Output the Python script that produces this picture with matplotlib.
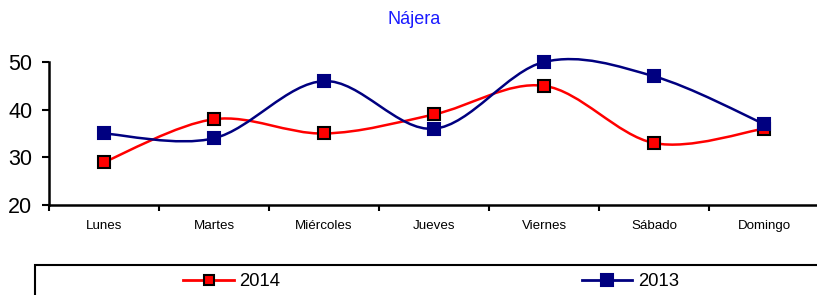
import numpy as np
import matplotlib
matplotlib.use('Agg')
import matplotlib.pyplot as plt
from matplotlib.path import Path
from matplotlib.patches import PathPatch, Rectangle
from matplotlib.lines import Line2D

plt.rcParams['font.family'] = ['Liberation Sans', 'DejaVu Sans']

# datos
dias = ['Lunes', 'Martes', 'Miércoles', 'Jueves', 'Viernes', 'Sábado', 'Domingo']
v2014 = [29, 38, 35, 39, 45, 33, 36]
v2013 = [35, 34, 46, 36, 50, 47, 37]
titulo = 'Nájera'


def curva_suave(xs, ys):
    # curva tipo Excel (Catmull-Rom en Bezier cúbicas)
    p = np.column_stack([xs, ys]).astype(float)
    ext = np.vstack([p[0], p, p[-1]])
    verts = [p[0]]
    codes = [Path.MOVETO]
    for i in range(len(p) - 1):
        p0, p1, p2, p3 = ext[i], ext[i + 1], ext[i + 2], ext[i + 3]
        verts += [p1 + (p2 - p0) / 6, p2 - (p3 - p1) / 6, p2]
        codes += [Path.CURVE4] * 3
    return Path(verts, codes)


fig = plt.figure(figsize=(8.17, 2.95), dpi=100)
ax = fig.add_axes([49 / 817, 90 / 295, 770 / 817, 143 / 295])

x = np.arange(len(dias))
series = [(v2014, 'red', 'black', 8, '2014'), (v2013, '#000080', '#000080', 9, '2013')]
handles = []
for vals, col, edge, ms, lab in series:
    ax.add_patch(PathPatch(curva_suave(x, vals), facecolor='none', edgecolor=col, lw=1.8,
                           zorder=2, clip_on=False))
    ax.plot(x, vals, ls='none', marker='s', ms=ms, mfc=col, mec=edge, mew=1.5, zorder=3, clip_on=False)
    handles.append(Line2D([], [], color=col, lw=2, marker='s', ms=ms - 1, mfc=col, mec=edge, mew=1.5, label=lab))

ax.set_xlim(-0.5, len(dias) - 0.5)
ax.set_ylim(20, 50)
ax.set_yticks([20, 30, 40, 50])
ax.set_xticks(x)
ax.set_xticklabels(dias, fontsize=9.6)
ax.set_xticks(np.arange(-0.5, len(dias), 1), minor=True)
ax.tick_params(axis='x', which='major', length=0, pad=11)
ax.tick_params(axis='x', which='minor', length=4, width=1.5, direction='out')
ax.tick_params(axis='y', labelsize=15.5, length=5, width=1.5, pad=7)

for s in ['top', 'right']:
    ax.spines[s].set_visible(False)
for s in ['left', 'bottom']:
    ax.spines[s].set_linewidth(1.8)

fig.text(414 / 817, 1 - 20 / 295, titulo, color='#1a1aff', fontsize=13,
         ha='center', va='center')

# cuadro de la leyenda
fig.patches.append(Rectangle((35 / 817, -0.1), 1.2, 0.1 + 30 / 295, transform=fig.transFigure,
                             facecolor='white', edgecolor='black', lw=1.5, clip_on=False))
fig.legend(handles=handles, loc='center left', bbox_to_anchor=(174 / 817, 1 - 282 / 295),
           ncol=2, frameon=False, fontsize=13.3, handlelength=2.75, handletextpad=0.3,
           columnspacing=16.3, borderpad=0)

fig.savefig('out.png', dpi=100)
